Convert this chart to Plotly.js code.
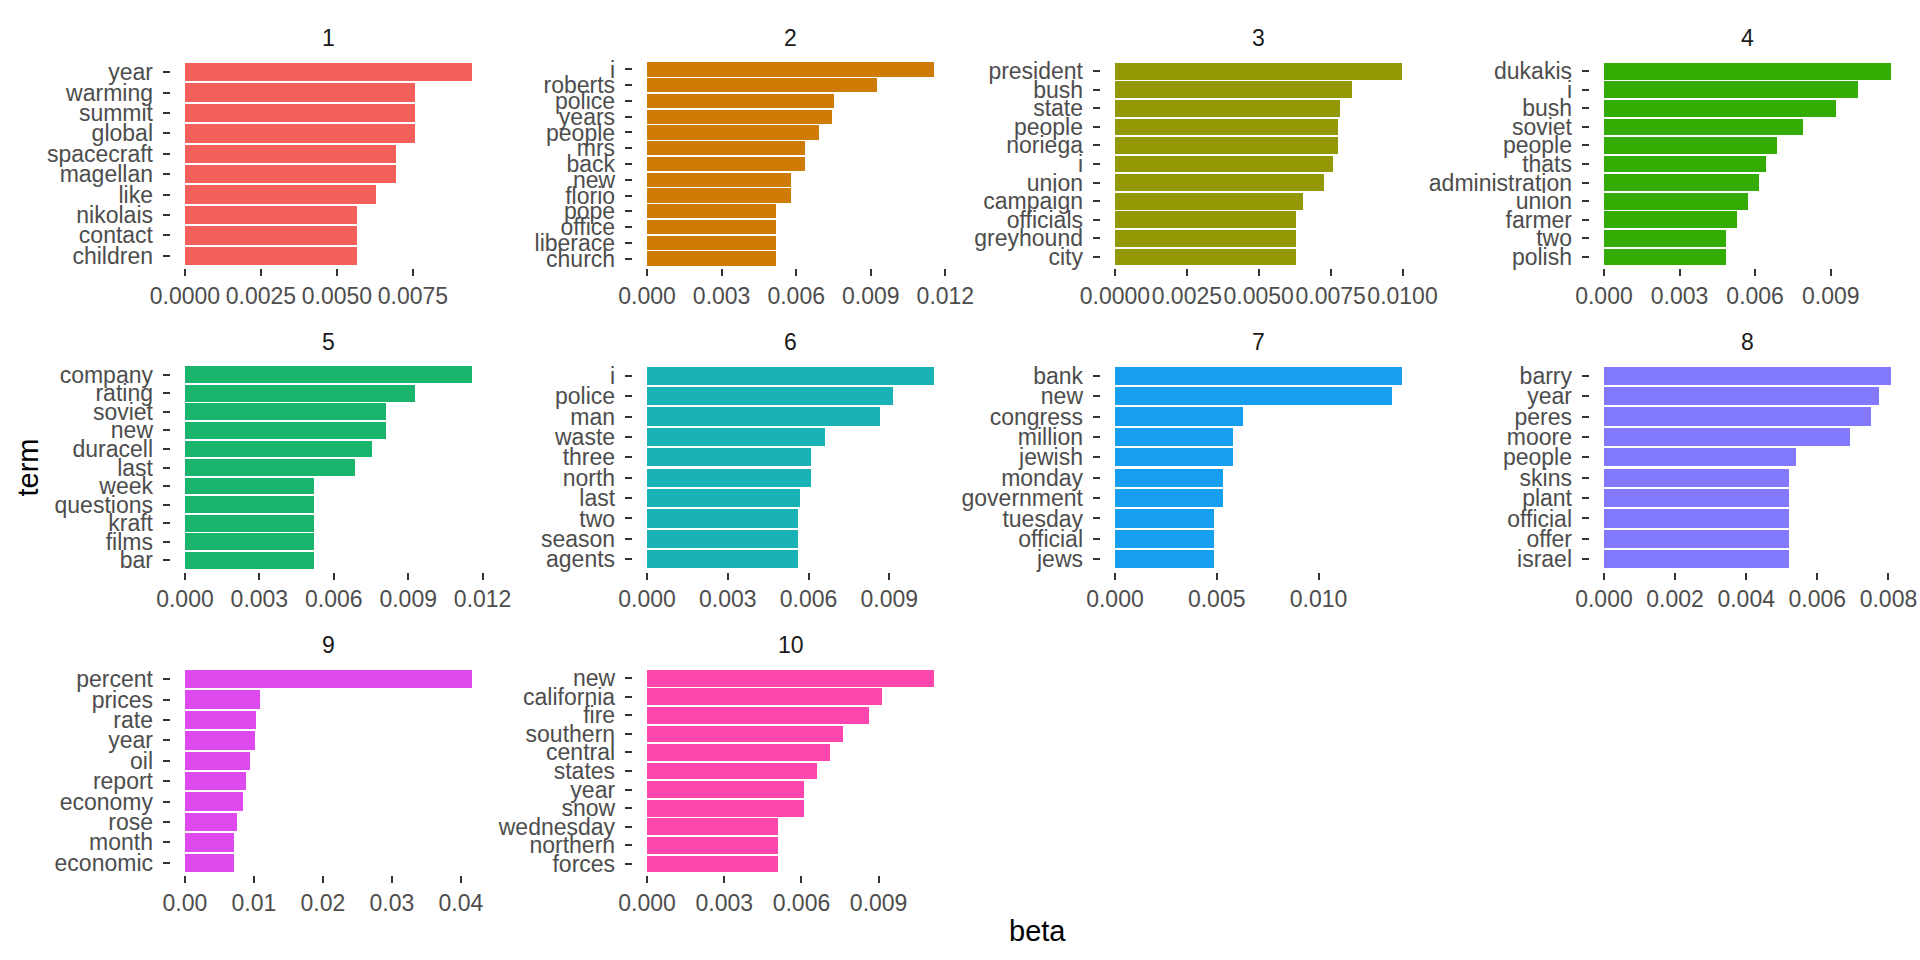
<!DOCTYPE html>
<html>
<head>
<meta charset="utf-8">
<script src="https://cdn.plot.ly/plotly-3.0.1.min.js"></script>
<style>
  html, body { margin: 0; padding: 0; background: #fff; }
  #chart { width: 1920px; height: 960px; }
</style>
</head>
<body>
<div id="chart"></div>
<script>
// top terms per topic, largest first
const terms1 = ['year', 'warming', 'summit', 'global', 'spacecraft', 'magellan', 'like', 'nikolais', 'contact', 'children'];
const beta1 = [0.00944, 0.00757, 0.00757, 0.00757, 0.00694, 0.00694, 0.00628, 0.00566, 0.00566, 0.00566];

const terms2 = ['i', 'roberts', 'police', 'years', 'people', 'mrs', 'back', 'new', 'florio', 'pope', 'office', 'liberace', 'church'];
const beta2 = [0.01154, 0.00925, 0.00752, 0.00744, 0.00692, 0.00635, 0.00635, 0.00579, 0.00579, 0.00519, 0.00519, 0.00519, 0.00519];

const terms3 = ['president', 'bush', 'state', 'people', 'noriega', 'i', 'union', 'campaign', 'officials', 'greyhound', 'city'];
const beta3 = [0.00998, 0.00824, 0.00782, 0.00775, 0.00775, 0.00758, 0.00727, 0.00654, 0.00629, 0.00629, 0.00629];

const terms4 = ['dukakis', 'i', 'bush', 'soviet', 'people', 'thats', 'administration', 'union', 'farmer', 'two', 'polish'];
const beta4 = [0.01139, 0.01008, 0.00921, 0.0079, 0.00687, 0.00643, 0.00615, 0.00571, 0.00528, 0.00484, 0.00484];

const terms5 = ['company', 'rating', 'soviet', 'new', 'duracell', 'last', 'week', 'questions', 'kraft', 'films', 'bar'];
const beta5 = [0.01157, 0.00927, 0.0081, 0.0081, 0.00754, 0.00685, 0.0052, 0.0052, 0.0052, 0.0052, 0.0052];

const terms6 = ['i', 'police', 'man', 'waste', 'three', 'north', 'last', 'two', 'season', 'agents'];
const beta6 = [0.01066, 0.00913, 0.00865, 0.00661, 0.00609, 0.00609, 0.00568, 0.00561, 0.00561, 0.00561];

const terms7 = ['bank', 'new', 'congress', 'million', 'jewish', 'monday', 'government', 'tuesday', 'official', 'jews'];
const beta7 = [0.0141, 0.0136, 0.00629, 0.0058, 0.0058, 0.0053, 0.0053, 0.00486, 0.00486, 0.00486];

const terms8 = ['barry', 'year', 'peres', 'moore', 'people', 'skins', 'plant', 'official', 'offer', 'israel'];
const beta8 = [0.00807, 0.00774, 0.00751, 0.00692, 0.0054, 0.0052, 0.0052, 0.0052, 0.0052, 0.0052];

const terms9 = ['percent', 'prices', 'rate', 'year', 'oil', 'report', 'economy', 'rose', 'month', 'economic'];
const beta9 = [0.0416, 0.01087, 0.0103, 0.01014, 0.0094, 0.00884, 0.0084, 0.00754, 0.0071, 0.0071];

const terms10 = ['new', 'california', 'fire', 'southern', 'central', 'states', 'year', 'snow', 'wednesday', 'northern', 'forces'];
const beta10 = [0.01115, 0.00913, 0.00863, 0.00762, 0.00711, 0.0066, 0.0061, 0.0061, 0.00509, 0.00509, 0.00509];

// x tick labels of each panel
const ticks1 = ['0.0000', '0.0025', '0.0050', '0.0075'];
const ticks2 = ['0.000', '0.003', '0.006', '0.009', '0.012'];
const ticks3 = ['0.0000', '0.0025', '0.0050', '0.0075', '0.0100'];
const ticks4 = ['0.000', '0.003', '0.006', '0.009'];
const ticks5 = ['0.000', '0.003', '0.006', '0.009', '0.012'];
const ticks6 = ['0.000', '0.003', '0.006', '0.009'];
const ticks7 = ['0.000', '0.005', '0.010'];
const ticks8 = ['0.000', '0.002', '0.004', '0.006', '0.008'];
const ticks9 = ['0.00', '0.01', '0.02', '0.03', '0.04'];
const ticks10 = ['0.000', '0.003', '0.006', '0.009'];

const topics = ['1', '2', '3', '4', '5', '6', '7', '8', '9', '10'];
const colors = ['#F3605C', '#CF7C06', '#929904', '#33AC04', '#1BB46D',
                '#19B2B7', '#179FEF', '#8379FF', '#DE4AEE', '#FD47AF'];

const allTerms = [terms1, terms2, terms3, terms4, terms5, terms6, terms7, terms8, terms9, terms10];
const allBeta = [beta1, beta2, beta3, beta4, beta5, beta6, beta7, beta8, beta9, beta10];
const allTicks = [ticks1, ticks2, ticks3, ticks4, ticks5, ticks6, ticks7, ticks8, ticks9, ticks10];

// facet grid in pixels (4 columns, 3 rows)
const W = 1920, H = 960;
const colX = [[170.6, 486.3], [632.7, 948.3], [1100.6, 1416.3], [1589.6, 1905.3]];
const rowY = [[60, 268], [363.5, 571.5], [667, 875]];

const tickFont = {family: 'Liberation Sans, Arial, sans-serif', size: 23, color: '#4d4d4d'};

let data = [];
let layout = {
  width: W, height: H,
  margin: {l: 0, r: 0, t: 0, b: 0},
  paper_bgcolor: '#ffffff',
  plot_bgcolor: '#ffffff',
  showlegend: false,
  bargap: 0,
  annotations: []
};

topics.forEach(function (tp, i) {
  let col = i % 4, row = Math.floor(i / 4);
  let n = allTerms[i].length;
  let mx = Math.max.apply(null, allBeta[i]);
  let xa = i == 0 ? 'x' : 'x' + (i + 1);
  let ya = i == 0 ? 'y' : 'y' + (i + 1);
  let xKey = i == 0 ? 'xaxis' : 'xaxis' + (i + 1);
  let yKey = i == 0 ? 'yaxis' : 'yaxis' + (i + 1);

  data.push({
    type: 'bar',
    orientation: 'h',
    x: allBeta[i],
    y: allTerms[i],
    xaxis: xa,
    yaxis: ya,
    width: 0.9,
    marker: {color: colors[i], line: {width: 0}},
    hoverinfo: 'skip'
  });

  layout[xKey] = {
    domain: [colX[col][0] / W, colX[col][1] / W],
    anchor: ya,
    range: [-0.05 * mx, 1.05 * mx],
    tickmode: 'array',
    tickvals: allTicks[i].map(Number),
    ticktext: allTicks[i],
    tickangle: 0,
    ticks: 'outside', ticklen: 7, tickwidth: 2, tickcolor: '#333333',
    tickfont: tickFont,
    showgrid: false, zeroline: false, showline: false,
    fixedrange: true
  };
  layout[yKey] = {
    domain: [1 - rowY[row][1] / H, 1 - rowY[row][0] / H],
    anchor: xa,
    type: 'category',
    categoryorder: 'array',
    categoryarray: allTerms[i],
    range: [n - 0.4, -0.6],
    tickmode: 'array',
    tickvals: allTerms[i],
    ticks: 'outside', ticklen: 7, tickwidth: 2, tickcolor: '#333333',
    ticklabelstandoff: 5,
    tickfont: tickFont,
    showgrid: false, zeroline: false, showline: false,
    fixedrange: true
  };

  // strip label
  layout.annotations.push({
    text: tp,
    xref: 'paper', yref: 'paper',
    x: (colX[col][0] + colX[col][1]) / 2 / W,
    y: 1 - (rowY[row][0] - 22) / H,
    xanchor: 'center', yanchor: 'middle',
    showarrow: false,
    font: {family: 'Liberation Sans, Arial, sans-serif', size: 23, color: '#1a1a1a'}
  });
});

// axis titles
layout.annotations.push({
  text: 'beta',
  xref: 'paper', yref: 'paper',
  x: (colX[0][0] + colX[3][1]) / 2 / W,
  y: 1 - 931 / H,
  xanchor: 'center', yanchor: 'middle',
  showarrow: false,
  font: {family: 'Liberation Sans, Arial, sans-serif', size: 29, color: '#000000'}
});
layout.annotations.push({
  text: 'term',
  xref: 'paper', yref: 'paper',
  x: 27 / W,
  y: 1 - 467.5 / H,
  xanchor: 'center', yanchor: 'middle',
  textangle: -90,
  showarrow: false,
  font: {family: 'Liberation Sans, Arial, sans-serif', size: 29, color: '#000000'}
});

Plotly.newPlot('chart', data, layout, {displayModeBar: false, staticPlot: true});
</script>
</body>
</html>
